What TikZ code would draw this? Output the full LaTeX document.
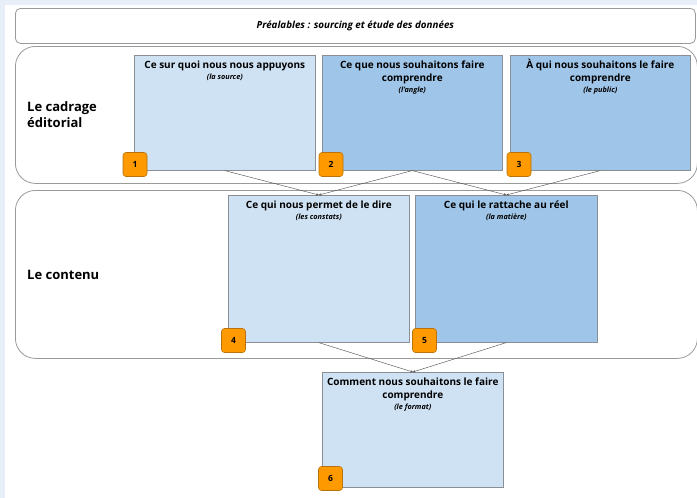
\documentclass[tikz,border=0pt]{standalone}
\usepackage{fontspec}
\setmainfont{Open Sans}
\usetikzlibrary{arrows.meta}
\definecolor{bgblue}{HTML}{E7EEF8}
\definecolor{lightbox}{HTML}{CFE2F3}
\definecolor{midbox}{HTML}{9FC5E8}
\definecolor{boxline}{HTML}{8A8F96}
\definecolor{framel}{HTML}{9A9A9A}
\definecolor{badgeor}{HTML}{FF9900}
\definecolor{badgeline}{HTML}{B8740A}
\definecolor{connc}{HTML}{555555}
\newcommand{\subtxt}[1]{{\bfseries\itshape\fontsize{7.3}{8}\selectfont #1}}
\begin{document}
\begin{tikzpicture}[x=1pt,y=-1pt,
  frame/.style={draw=framel, line width=0.8pt, fill=white, anchor=north west, inner sep=0pt},
  box/.style={draw=boxline, line width=0.6pt, anchor=north west, inner sep=0pt, minimum height=115pt},
  badge/.style={draw=badgeline, line width=0.6pt, fill=badgeor, rounded corners=3pt, minimum size=24pt, inner sep=0pt, font=\bfseries\fontsize{8.5}{9}\selectfont},
  title/.style={font=\bfseries\fontsize{10}{13}\selectfont, align=center, anchor=north, inner sep=0pt},
  side/.style={font=\bfseries\fontsize{13}{16}\selectfont, align=left, anchor=west, inner sep=0pt},
  conn/.style={draw=connc, line width=0.45pt, -{Stealth[length=2.5pt,width=2.5pt]}}
]
\useasboundingbox (0,0) rectangle (697,498);
\fill[bgblue] (0,0) rectangle (697,498);
\fill[white] (5,5) rectangle (697,498);

% frames
\node[frame, rounded corners=5pt, minimum width=680pt, minimum height=35pt] (top) at (15,8) {};
\node[font=\bfseries\itshape\fontsize{9.8}{11}\selectfont] (toptext) at (top.center) {Préalables : sourcing et étude des données};
\node[frame, rounded corners=20pt, minimum width=682pt, minimum height=137pt] (f1) at (15,46) {};
\node[frame, rounded corners=20pt, minimum width=682pt, minimum height=168pt] (f2) at (15,190) {};
\node[side] (l1) at (27,115) {Le cadrage\\éditorial};
\node[side] (l2) at (27,275) {Le contenu};

% boxes
\node[box, fill=lightbox, minimum width=181pt] (b1) at (134,55) {};
\node[box, fill=midbox, minimum width=180pt] (b2) at (322,55) {};
\node[box, fill=midbox, minimum width=180pt] (b3) at (510,55) {};
\node[box, fill=lightbox, minimum width=181pt, minimum height=147pt] (b4) at (228,195) {};
\node[box, fill=midbox, minimum width=182pt, minimum height=147pt] (b5) at (415,195) {};
\node[box, fill=lightbox, minimum width=181pt] (b6) at (322,372) {};

% titles
\node[title] (t1) at ([yshift=-6pt]b1.north) {Ce sur quoi nous nous appuyons\\[-2.5pt]\subtxt{(la source)}};
\node[title] (t2) at ([yshift=-6pt]b2.north) {Ce que nous souhaitons faire\\comprendre\\[-2.5pt]\subtxt{(l'angle)}};
\node[title] (t3) at ([yshift=-4pt]b3.north) {À qui nous souhaitons le faire\\comprendre\\[-2.5pt]\subtxt{(le public)}};
\node[title] (t4) at ([yshift=-6pt]b4.north) {Ce qui nous permet de le dire\\[-2.5pt]\subtxt{(les constats)}};
\node[title] (t5) at ([yshift=-6pt]b5.north) {Ce qui le rattache au réel\\[-2.5pt]\subtxt{(la matière)}};
\node[title] (t6) at ([yshift=-6pt]b6.north) {Comment nous souhaitons le faire\\comprendre\\[-2.5pt]\subtxt{(le format)}};

% connectors
\draw[conn] (b1.south) -- (b4.north);
\draw[conn] (b2.south) -- (b4.north);
\draw[conn] (b2.south) -- (b5.north);
\draw[conn] (b3.south) -- (b5.north);
\draw[conn] (b4.south) -- (b6.north);
\draw[conn] (b5.south) -- (b6.north);

% badges
\node[badge] (n1) at (135,164.5) {1};
\node[badge] (n2) at (331,164.5) {2};
\node[badge] (n3) at (519,164.5) {3};
\node[badge] (n4) at (233.5,340.5) {4};
\node[badge] (n5) at (424.5,340.5) {5};
\node[badge] (n6) at (330.5,478.5) {6};
\end{tikzpicture}
\end{document}
